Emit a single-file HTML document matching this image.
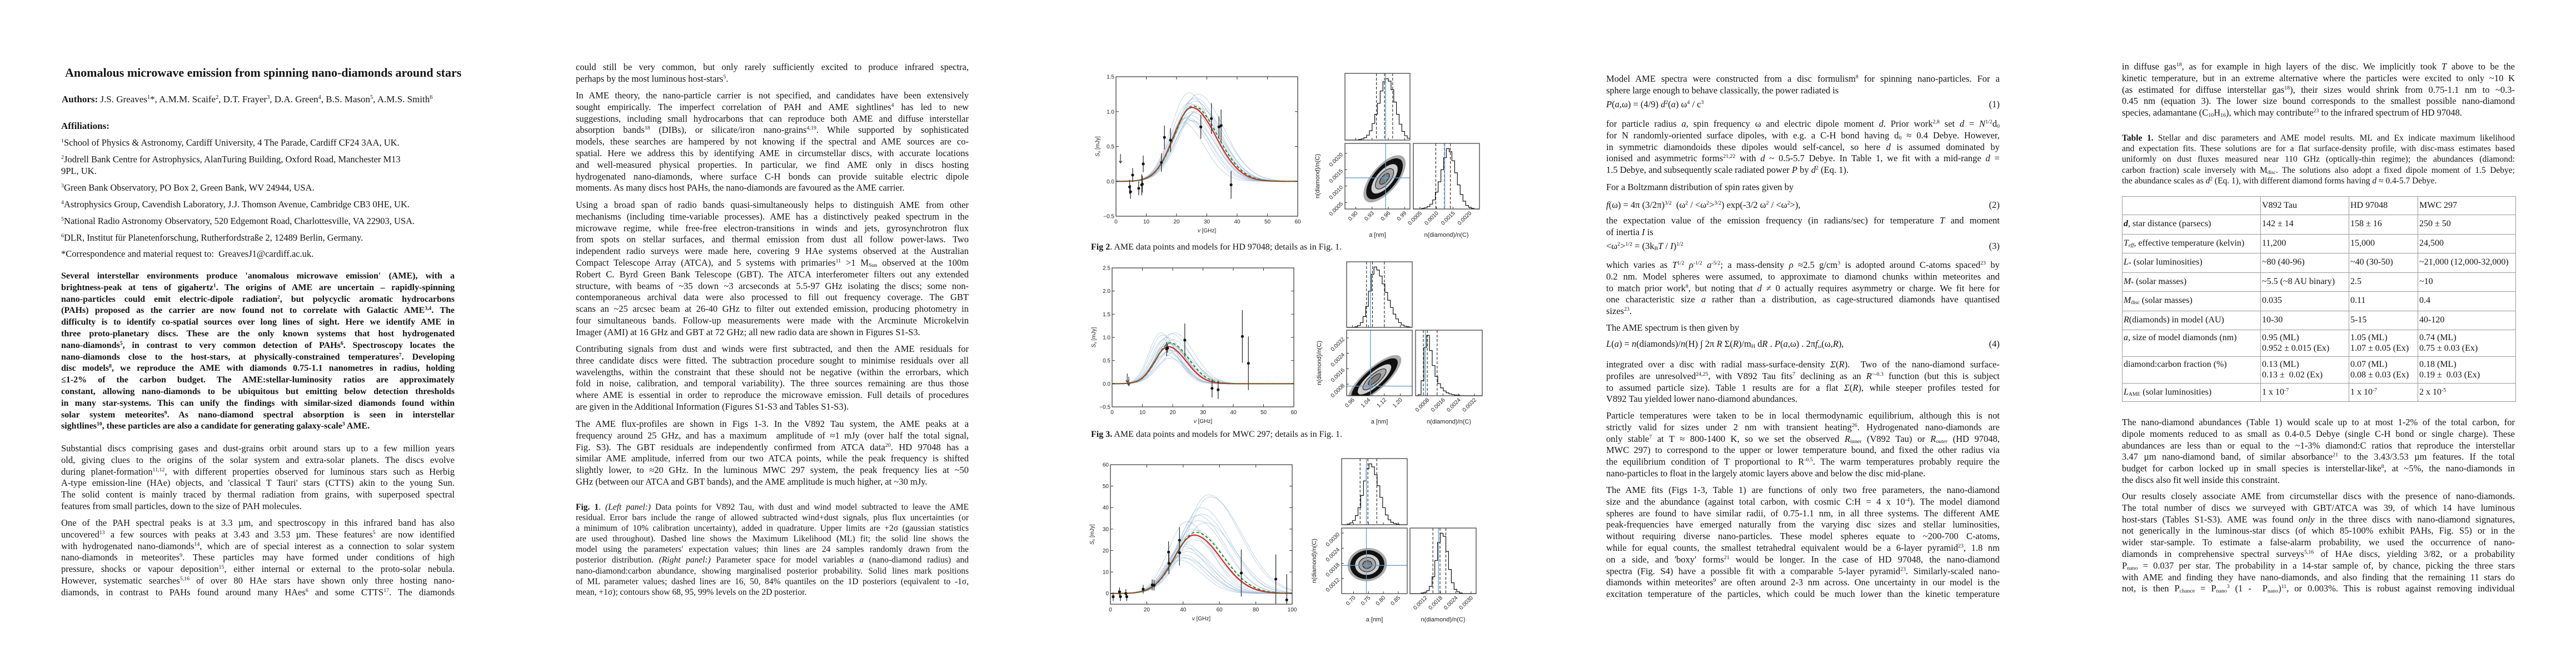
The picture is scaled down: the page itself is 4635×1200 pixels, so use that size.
<!DOCTYPE html>
<html><head><meta charset="utf-8"><title>Anomalous microwave emission from spinning nano-diamonds around stars</title>
<style>
body{margin:0;width:4635px;height:1200px;position:relative;background:#fff;overflow:hidden;font-family:"Liberation Serif",serif;color:#141414}
.p{position:absolute;font-size:16.5px;line-height:20.8px}
.p>div{height:20.8px;overflow:hidden;text-align:justify;text-align-last:justify}
.p>div.e{text-align-last:left}
.b{font-weight:bold;font-size:16px}
.cap{font-size:15.5px;line-height:19.1px}
.cap>div{height:19.1px}
.tc{font-size:15.5px;line-height:19.2px}
.tc>div{height:19.2px}
sup{font-size:0.6em;line-height:0;vertical-align:0.6em}
sub{font-size:0.6em;line-height:0;vertical-align:-0.2em}
.eq{position:absolute;font-size:16.5px;line-height:20.8px;height:20.8px}
.eq .n{position:absolute;right:0;top:0}
.abs{position:absolute;white-space:nowrap}
.tb{position:absolute;font-size:16px;line-height:19px}
.cell{position:absolute;box-sizing:border-box;border:1px solid #999;padding:4px 2px 0 2px;overflow:hidden;white-space:nowrap}
#figs{position:absolute;left:0;top:0}
</style></head>
<body>

<div class="abs" style="left:117px;top:118px;font-size:22px;font-weight:bold;">Anomalous microwave emission from spinning nano-diamonds around stars</div>
<div class="abs" style="left:111px;top:169px;font-size:17px;"><b>Authors:</b> J.S. Greaves<sup>1</sup>*, A.M.M. Scaife<sup>2</sup>, D.T. Frayer<sup>3</sup>, D.A. Green<sup>4</sup>, B.S. Mason<sup>5</sup>, A.M.S. Smith<sup>6</sup></div>
<div class="abs" style="left:110px;top:217px;font-size:17px;font-weight:bold;">Affiliations:</div>
<div class="abs" style="left:110px;top:247px;font-size:16.5px;"><sup>1</sup>School of Physics &amp; Astronomy, Cardiff University, 4 The Parade, Cardiff CF24 3AA, UK.</div>
<div class="abs" style="left:110px;top:276px;font-size:16.5px;line-height:21px;"><sup>2</sup>Jodrell Bank Centre for Astrophysics, AlanTuring Building, Oxford Road, Manchester M13<br>9PL, UK.</div>
<div class="abs" style="left:110px;top:328px;font-size:16.5px;"><sup>3</sup>Green Bank Observatory, PO Box 2, Green Bank, WV 24944, USA.</div>
<div class="abs" style="left:110px;top:358px;font-size:16.5px;"><sup>4</sup>Astrophysics Group, Cavendish Laboratory, J.J. Thomson Avenue, Cambridge CB3 0HE, UK.</div>
<div class="abs" style="left:110px;top:388px;font-size:16.5px;"><sup>5</sup>National Radio Astronomy Observatory, 520 Edgemont Road, Charlottesville, VA 22903, USA.</div>
<div class="abs" style="left:110px;top:418px;font-size:16.5px;"><sup>6</sup>DLR, Institut für Planetenforschung, Rutherfordstraße 2, 12489 Berlin, Germany.</div>
<div class="abs" style="left:110px;top:447px;font-size:16.5px;">*Correspondence and material request to: &nbsp;GreavesJ1@cardiff.ac.uk.</div>

<div class="p b" style="left:110px;top:487px;width:708px;">
<div>Several interstellar environments produce 'anomalous microwave emission' (AME), with a</div>
<div>brightness-peak at tens of gigahertz<sup>1</sup>. The origins of AME are uncertain – rapidly-spinning</div>
<div>nano-particles could emit electric-dipole radiation<sup>2</sup>, but polycyclic aromatic hydrocarbons</div>
<div>(PAHs) proposed as the carrier are now found not to correlate with Galactic AME<sup>3,4</sup>. The</div>
<div>difficulty is to identify co-spatial sources over long lines of sight. Here we identify AME in</div>
<div>three proto-planetary discs. These are the only known systems that host hydrogenated</div>
<div>nano-diamonds<sup>5</sup>, in contrast to very common detection of PAHs<sup>6</sup>. Spectroscopy locates the</div>
<div>nano-diamonds close to the host-stars, at physically-constrained temperatures<sup>7</sup>. Developing</div>
<div>disc models<sup>8</sup>, we reproduce the AME with diamonds 0.75-1.1 nanometres in radius, holding</div>
<div>≤1-2% of the carbon budget. The AME:stellar-luminosity ratios are approximately</div>
<div>constant, allowing nano-diamonds to be ubiquitous but emitting below detection thresholds</div>
<div>in many star-systems. This can unify the findings with similar-sized diamonds found within</div>
<div>solar system meteorites<sup>9</sup>. As nano-diamond spectral absorption is seen in interstellar</div>
<div class="e">sightlines<sup>10</sup>, these particles are also a candidate for generating galaxy-scale<sup>3</sup> AME.</div>
</div>

<div class="p" style="left:110px;top:797px;width:708px;">
<div>Substantial discs comprising gases and dust-grains orbit around stars up to a few million years</div>
<div>old, giving clues to the origins of the solar system and extra-solar planets. The discs evolve</div>
<div>during planet-formation<sup>11,12</sup>, with different properties observed for luminous stars such as Herbig</div>
<div>A-type emission-line (HAe) objects, and 'classical T Tauri' stars (CTTS) akin to the young Sun.</div>
<div>The solid content is mainly traced by thermal radiation from grains, with superposed spectral</div>
<div class="e">features from small particles, down to the size of PAH molecules.</div>
</div>

<div class="p" style="left:110px;top:931px;width:708px;">
<div>One of the PAH spectral peaks is at 3.3 µm, and spectroscopy in this infrared band has also</div>
<div>uncovered<sup>13</sup> a few sources with peaks at 3.43 and 3.53 µm. These features<sup>5</sup> are now identified</div>
<div>with hydrogenated nano-diamonds<sup>14</sup>, which are of special interest as a connection to solar system</div>
<div>nano-diamonds in meteorites<sup>9</sup>. These particles may have formed under conditions of high</div>
<div>pressure, shocks or vapour deposition<sup>15</sup>, either internal or external to the proto-solar nebula.</div>
<div>However, systematic searches<sup>5,16</sup> of over 80 HAe stars have shown only three hosting nano-</div>
<div>diamonds, in contrast to PAHs found around many HAes<sup>6</sup> and some CTTS<sup>17</sup>. The diamonds</div>
</div>

<div class="p" style="left:1036px;top:111px;width:707px;">
<div>could still be very common, but only rarely sufficiently excited to produce infrared spectra,</div>
<div class="e">perhaps by the most luminous host-stars<sup>5</sup>.</div>
</div>
<div class="p" style="left:1036px;top:162px;width:707px;">
<div>In AME theory, the nano-particle carrier is not specified, and candidates have been extensively</div>
<div>sought empirically. The imperfect correlation of PAH and AME sightlines<sup>4</sup> has led to new</div>
<div>suggestions, including small hydrocarbons that can reproduce both AME and diffuse interstellar</div>
<div>absorption bands<sup>18</sup> (DIBs), or silicate/iron nano-grains<sup>4,19</sup>. While supported by sophisticated</div>
<div>models, these searches are hampered by not knowing if the spectral and AME sources are co-</div>
<div>spatial. Here we address this by identifying AME in circumstellar discs, with accurate locations</div>
<div>and well-measured physical properties. In particular, we find AME only in discs hosting</div>
<div>hydrogenated nano-diamonds, where surface C-H bonds can provide suitable electric dipole</div>
<div class="e">moments. As many discs host PAHs, the nano-diamonds are favoured as the AME carrier.</div>
</div>
<div class="p" style="left:1036px;top:359px;width:707px;">
<div>Using a broad span of radio bands quasi-simultaneously helps to distinguish AME from other</div>
<div>mechanisms (including time-variable processes). AME has a distinctively peaked spectrum in the</div>
<div>microwave regime, while free-free electron-transitions in winds and jets, gyrosynchrotron flux</div>
<div>from spots on stellar surfaces, and thermal emission from dust all follow power-laws. Two</div>
<div>independent radio surveys were made here, covering 9 HAe systems observed at the Australian</div>
<div>Compact Telescope Array (ATCA), and 5 systems with primaries<sup>11</sup> &gt;1 M<sub>Sun</sub> observed at the 100m</div>
<div>Robert C. Byrd Green Bank Telescope (GBT). The ATCA interferometer filters out any extended</div>
<div>structure, with beams of ~35 down ~3 arcseconds at 5.5-97 GHz isolating the discs; some non-</div>
<div>contemporaneous archival data were also processed to fill out frequency coverage. The GBT</div>
<div>scans an ~25 arcsec beam at 26-40 GHz to filter out extended emission, producing photometry in</div>
<div>four simultaneous bands. Follow-up measurements were made with the Arcminute Microkelvin</div>
<div class="e">Imager (AMI) at 16 GHz and GBT at 72 GHz; all new radio data are shown in Figures S1-S3.</div>
</div>
<div class="p" style="left:1036px;top:618px;width:707px;">
<div>Contributing signals from dust and winds were first subtracted, and then the AME residuals for</div>
<div>three candidate discs were fitted. The subtraction procedure sought to minimise residuals over all</div>
<div>wavelengths, within the constraint that these should not be negative (within the errorbars, which</div>
<div>fold in noise, calibration, and temporal variability). The three sources remaining are thus those</div>
<div>where AME is essential in order to reproduce the microwave emission. Full details of procedures</div>
<div class="e">are given in the Additional Information (Figures S1-S3 and Tables S1-S3).</div>
</div>
<div class="p" style="left:1036px;top:753px;width:707px;">
<div>The AME flux-profiles are shown in Figs 1-3. In the V892 Tau system, the AME peaks at a</div>
<div>frequency around 25 GHz, and has a maximum &nbsp;amplitude of ≈1 mJy (over half the total signal,</div>
<div>Fig. S3). The GBT residuals are independently confirmed from ATCA data<sup>20</sup>. HD 97048 has a</div>
<div>similar AME amplitude, inferred from our two ATCA points, while the peak frequency is shifted</div>
<div>slightly lower, to ≈20 GHz. In the luminous MWC 297 system, the peak frequency lies at ~50</div>
<div class="e">GHz (between our ATCA and GBT bands), and the AME amplitude is much higher, at ~30 mJy.</div>
</div>
<div class="p cap" style="left:1036px;top:903px;width:707px;">
<div><b>Fig. 1</b>. <i>(Left panel:)</i> Data points for V892 Tau, with dust and wind model subtracted to leave the AME</div>
<div>residual. Error bars include the range of allowed subtracted wind+dust signals, plus flux uncertainties (or</div>
<div>a minimum of 10% calibration uncertainty), added in quadrature. Upper limits are +2σ (gaussian statistics</div>
<div>are used throughout). Dashed line shows the Maximum Likelihood (ML) fit; the solid line shows the</div>
<div>model using the parameters' expectation values; thin lines are 24 samples randomly drawn from the</div>
<div>posterior distribution. <i>(Right panel:)</i> Parameter space for model variables <i>a</i> (nano-diamond radius) and</div>
<div>nano-diamond:carbon abundance, showing marginalised posterior probability. Solid lines mark positions</div>
<div>of ML parameter values; dashed lines are 16, 50, 84% quantiles on the 1D posteriors (equivalent to -1σ,</div>
<div class="e">mean, +1σ); contours show 68, 95, 99% levels on the 2D posterior.</div>
</div>

<div class="abs" style="left:1963px;top:436px;font-size:16px;"><b>Fig 2</b>. AME data points and models for HD 97048; details as in Fig. 1.</div>
<div class="abs" style="left:1963px;top:773px;font-size:16px;"><b>Fig 3.</b> AME data points and models for MWC 297; details as in Fig. 1.</div>

<div class="p" style="left:2890px;top:132px;width:708px;">
<div>Model AME spectra were constructed from a disc formulism<sup>8</sup> for spinning nano-particles. For a</div>
<div class="e">sphere large enough to behave classically, the power radiated is</div>
</div>
<div class="eq" style="left:2890px;top:178px;width:708px;"><i>P</i>(<i>a</i>,ω) = (4/9) <i>d</i><sup>2</sup>(<i>a</i>) ω<sup>4</sup> / c<sup>3</sup><span class="n">(1)</span></div>
<div class="p" style="left:2890px;top:213px;width:708px;">
<div>for particle radius <i>a</i>, spin frequency ω and electric dipole moment <i>d</i>. Prior work<sup>2,8</sup> set <i>d</i> = <i>N</i><sup>1/2</sup>d<sub>0</sub></div>
<div>for N randomly-oriented surface dipoles, with e.g. a C-H bond having d<sub>0</sub> ≈ 0.4 Debye. However,</div>
<div>in symmetric diamondoids these dipoles would self-cancel, so here <i>d</i> is assumed dominated by</div>
<div>ionised and asymmetric forms<sup>21,22</sup> with <i>d</i> ~ 0.5-5.7 Debye. In Table 1, we fit with a mid-range <i>d</i> =</div>
<div class="e">1.5 Debye, and subsequently scale radiated power <i>P</i> by <i>d</i><sup>2</sup> (Eq. 1).</div>
</div>
<div class="p" style="left:2890px;top:327px;width:708px;"><div class="e">For a Boltzmann distribution of spin rates given by</div></div>
<div class="eq" style="left:2890px;top:359px;width:708px;"><i>f</i>(ω) = 4π (3/2π)<sup>3/2</sup> &nbsp;(ω<sup>2</sup> / &lt;ω<sup>2</sup>&gt;<sup>3/2</sup>) exp(-3/2 ω<sup>2</sup> / &lt;ω<sup>2</sup>&gt;),<span class="n">(2)</span></div>
<div class="p" style="left:2890px;top:387px;width:708px;">
<div>the expectation value of the emission frequency (in radians/sec) for temperature <i>T</i> and moment</div>
<div class="e">of inertia <i>I</i> is</div>
</div>
<div class="eq" style="left:2890px;top:433px;width:708px;">&lt;ω<sup>2</sup>&gt;<sup>1/2</sup> = (3k<sub>B</sub><i>T</i> / <i>I</i>)<sup>1/2</sup><span class="n">(3)</span></div>
<div class="p" style="left:2890px;top:467px;width:708px;">
<div>which varies as <i>T</i><sup>1/2</sup> <i>ρ</i><sup>-1/2</sup> <i>a</i><sup>-5/2</sup>; a mass-density <i>ρ</i> ≈2.5 g/cm<sup>3</sup> is adopted around C-atoms spaced<sup>23</sup> by</div>
<div>0.2 nm. Model spheres were assumed, to approximate to diamond chunks within meteorites and</div>
<div>to match prior work<sup>8</sup>, but noting that <i>d</i> ≠ 0 actually requires asymmetry or charge. We fit here for</div>
<div>one characteristic size <i>a</i> rather than a distribution, as cage-structured diamonds have quantised</div>
<div class="e">sizes<sup>23</sup>.</div>
</div>
<div class="p" style="left:2890px;top:580px;width:708px;"><div class="e">The AME spectrum is then given by</div></div>
<div class="eq" style="left:2890px;top:609px;width:708px;"><i>L</i>(<i>a</i>) = <i>n</i>(diamonds)/<i>n</i>(H) ∫ 2π <i>R</i> Σ(<i>R</i>)/m<sub>H</sub> d<i>R</i> . <i>P</i>(<i>a</i>,ω) . 2π<i>f</i><sub>ω</sub>(ω,<i>R</i>),<span class="n">(4)</span></div>
<div class="p" style="left:2890px;top:646px;width:708px;">
<div>integrated over a disc with radial mass-surface-density <i>Σ</i>(<i>R</i>). &nbsp;Two of the nano-diamond surface-</div>
<div>profiles are unresolved<sup>24,25</sup>, with V892 Tau fits<sup>7</sup> declining as an <i>R</i><sup>~-0.3</sup> function (but this is subject</div>
<div>to assumed particle size). Table 1 results are for a flat <i>Σ</i>(<i>R</i>), while steeper profiles tested for</div>
<div class="e">V892 Tau yielded lower nano-diamond abundances.</div>
</div>
<div class="p" style="left:2890px;top:738px;width:708px;">
<div>Particle temperatures were taken to be in local thermodynamic equilibrium, although this is not</div>
<div>strictly valid for sizes under 2 nm with transient heating<sup>26</sup>. Hydrogenated nano-diamonds are</div>
<div>only stable<sup>7</sup> at T ≈ 800-1400 K, so we set the observed <i>R</i><sub>inner</sub> (V892 Tau) or <i>R<sub>outer</sub></i> (HD 97048,</div>
<div>MWC 297) to correspond to the upper or lower temperature bound, and fixed the other radius via</div>
<div>the equilibrium condition of T proportional to R<sup>-0.5</sup>. The warm temperatures probably require the</div>
<div class="e">nano-particles to float in the largely atomic layers above and below the disc mid-plane.</div>
</div>
<div class="p" style="left:2890px;top:872px;width:708px;">
<div>The AME fits (Figs 1-3, Table 1) are functions of only two free parameters, the nano-diamond</div>
<div>size and the abundance (against total carbon, with cosmic C:H = 4 x 10<sup>-4</sup>). The model diamond</div>
<div>spheres are found to have similar radii, of 0.75-1.1 nm, in all three systems. The different AME</div>
<div>peak-frequencies have emerged naturally from the varying disc sizes and stellar luminosities,</div>
<div>without requiring diverse nano-particles. These model spheres equate to ~200-700 C-atoms,</div>
<div>while for equal counts, the smallest tetrahedral equivalent would be a 6-layer pyramid<sup>23</sup>, 1.8 nm</div>
<div>on a side, and 'boxy' forms<sup>21</sup> would be longer. In the case of HD 97048, the nano-diamond</div>
<div>spectra (Fig. S4) have a possible fit with a comparable 5-layer pyramid<sup>23</sup>. Similarly-scaled nano-</div>
<div>diamonds within meteorites<sup>9</sup> are often around 2-3 nm across. One uncertainty in our model is the</div>
<div>excitation temperature of the particles, which could be much lower than the kinetic temperature</div>
</div>

<div class="p" style="left:3818px;top:110px;width:707px;">
<div>in diffuse gas<sup>18</sup>, as for example in high layers of the disc. We implicitly took <i>T</i> above to be the</div>
<div>kinetic temperature, but in an extreme alternative where the particles were excited to only ~10 K</div>
<div>(as estimated for diffuse interstellar gas<sup>18</sup>), their sizes would shrink from 0.75-1.1 nm to ~0.3-</div>
<div>0.45 nm (equation 3). The lower size bound corresponds to the smallest possible nano-diamond</div>
<div class="e">species, adamantane (C<sub>10</sub>H<sub>16</sub>), which may contribute<sup>23</sup> to the infrared spectrum of HD 97048.</div>
</div>
<div class="p tc" style="left:3818px;top:239px;width:707px;">
<div><b>Table 1.</b> Stellar and disc parameters and AME model results. ML and Ex indicate maximum likelihood</div>
<div>and expectation fits. These solutions are for a flat surface-density profile, with disc-mass estimates based</div>
<div>uniformly on dust fluxes measured near 110 GHz (optically-thin regime); the abundances (diamond:</div>
<div>carbon fraction) scale inversely with M<sub>disc</sub>. The solutions also adopt a fixed dipole moment of 1.5 Debye;</div>
<div class="e">the abundance scales as <i>d</i><sup>2</sup> (Eq. 1), with different diamond forms having <i>d</i> ≈ 0.4-5.7 Debye.</div>
</div>

<div class="tb" id="table1"></div>

<div class="p" style="left:3818px;top:750px;width:707px;">
<div>The nano-diamond abundances (Table 1) would scale up to at most 1-2% of the total carbon, for</div>
<div>dipole moments reduced to as small as 0.4-0.5 Debye (single C-H bond or single charge). These</div>
<div>abundances are less than or equal to the ~1-3% diamond:C ratios that reproduce the interstellar</div>
<div>3.47 µm nano-diamond band, of similar absorbance<sup>21</sup> to the 3.43/3.53 µm features. If the total</div>
<div>budget for carbon locked up in small species is interstellar-like<sup>8</sup>, at ~5%, the nano-diamonds in</div>
<div class="e">the discs also fit well inside this constraint.</div>
</div>
<div class="p" style="left:3818px;top:883px;width:707px;">
<div>Our results closely associate AME from circumstellar discs with the presence of nano-diamonds.</div>
<div>The total number of discs we surveyed with GBT/ATCA was 39, of which 14 have luminous</div>
<div>host-stars (Tables S1-S3). AME was found <i>only</i> in the three discs with nano-diamond signatures,</div>
<div>not generically in the luminous-star discs (of which 85-100% exhibit PAHs, Fig. S5) or in the</div>
<div>wider star-sample. To estimate a false-alarm probability, we used the occurrence of nano-</div>
<div>diamonds in comprehensive spectral surveys<sup>5,16</sup> of HAe discs, yielding 3/82, or a probability</div>
<div>P<sub>nano</sub> = 0.037 per star. The probability in a 14-star sample of, by chance, picking the three stars</div>
<div>with AME and finding they have nano-diamonds, and also finding that the remaining 11 stars do</div>
<div>not, is then P<sub>chance</sub> = P<sub>nano</sub><sup>3</sup> (1 - &nbsp;P<sub>nano</sub>)<sup>11</sup>, or 0.003%. This is robust against removing individual</div>
</div>

<svg id="figs" width="4635" height="1200" xmlns="http://www.w3.org/2000/svg"></svg>

<script>
const tableHeader = ["", "V892 Tau", "HD 97048", "MWC 297"];
const tableRowLabels = ["<i><b>d</b></i>, star distance (parsecs)", "<i>T<sub>eff</sub></i>, effective temperature (kelvin)", "<i>L</i><sub>*</sub> (solar luminosities)", "<i>M</i><sub>*</sub> (solar masses)", "<i>M</i><sub>disc</sub> (solar masses)", "<i>R</i>(diamonds) in model (AU)", "<i>a</i>, size of model diamonds (nm)", "diamond:carbon fraction (%)", "<i>L</i><sub>AME</sub> (solar luminosities)"];
const tableV892 = ["142 ± 14", "11,200", "~80 (40-96)", "~5.5 (~8 AU binary)", "0.035", "10-30", "0.95 (ML)<br>0.952 ± 0.015 (Ex)", "0.13 (ML)<br>0.13 ± &nbsp;0.02 (Ex)", "1 x 10<sup>-7</sup>"];
const tableHD = ["158 ± 16", "15,000", "~40 (30-50)", "2.5", "0.11", "5-15", "1.05 (ML)<br>1.07 ± 0.05 (Ex)", "0.07 (ML)<br>0.08 ± 0.03 (Ex)", "1 x 10<sup>-7</sup>"];
const tableMWC = ["250 ± 50", "24,500", "~21,000 (12,000-32,000)", "~10", "0.4", "40-120", "0.74 (ML)<br>0.75 ± 0.03 (Ex)", "0.18 (ML)<br>0.19 ± &nbsp;0.03 (Ex)", "2 x 10<sup>-5</sup>"];

(function(){
  const colX = [3818, 4067, 4226, 4350, 4526];
  const rowY = [353, 386, 421, 455, 490, 524, 559, 593, 641, 689, 722];
  const tb = document.getElementById('table1');
  const rows = [tableHeader];
  for (let i = 0; i < tableRowLabels.length; i++) rows.push([tableRowLabels[i], tableV892[i], tableHD[i], tableMWC[i]]);
  rows.forEach((r, ri) => {
    r.forEach((txt, ci) => {
      const c = document.createElement('div');
      c.className = 'cell';
      c.style.left = colX[ci] + 'px';
      c.style.top = rowY[ri] + 'px';
      c.style.width = (colX[ci+1] - colX[ci] + 1) + 'px';
      c.style.height = (rowY[ri+1] - rowY[ri] + 1) + 'px';
      c.style.paddingTop = (ri >= 7 && ri <= 8 ? 4 : 6) + 'px';
      c.innerHTML = txt;
      
      
      tb.appendChild(c);
    });
  });
})();

const hdFreq = [4.5, 4.8, 5.5, 7.5, 8.5, 8.7, 9, 15, 16, 18, 28, 31.5, 34, 34.7, 38];
const hdFlux = [-0.08, -0.15, 0.09, -0.1, -0.05, -0.04, 0.25, 0.27, 0.63, 0.59, 0.78, 0.9, 0.78, 0.8, -0.05];
const hdErr = [0.1, 0.1, 0.1, 0.1, 0.15, 0.12, 0.12, 0.13, 0.17, 0.17, 0.17, 0.22, 0.15, 0.23, 0.2];
const hdLimFreq = [1.5];
const hdLimVal = [0.39];
const hdSamplePeak = [22, 23, 24, 24.5, 25, 25, 25.5, 26, 26, 27, 24, 23.5, 26.5, 25, 24, 27.5, 26, 25.5];
const hdSampleAmp = [0.85, 0.9, 0.88, 0.95, 1.0, 1.05, 1.1, 1.15, 1.2, 1.25, 1.27, 0.92, 1.0, 0.87, 1.12, 1.05, 0.98, 1.18];
const hdFitPeak = [25.4, 25.0];
const hdFitAmp = [1.08, 1.06];
const hdXTicks = [0, 10, 20, 30, 40, 50, 60];
const hdYTicks = [-0.5, 0.0, 0.5, 1.0, 1.5];
const hdYLabels = ["−0.5", "0.0", "0.5", "1.0", "1.5"];
const hdACounts = [0,0,0,0,0,1,2,4,8,15,27,42,60,80,95,100,96,82,62,42,26,14,7,3];
const hdNCounts = [0,0,0,1,2,4,8,15,28,45,65,85,100,95,80,60,40,24,13,6,3,1,0,0];
const hdARange = [0.88, 1.0];
const hdNRange = [0.0003, 0.0023];
const hdATicks = [0.90, 0.93, 0.96, 0.99];
const hdNTicks = [0.0005, 0.0010, 0.0015, 0.0020];
const hdAQuant = [0.938, 0.953, 0.968];
const hdNQuant = [0.00098, 0.00124, 0.00142];
const hdML = [0.955, 0.00125];
const hdSpread = [0.953, 0.00122, 0.013, 0.00024, 0.65];

const mwFreq = [18, 18.3, 24, 33, 35, 43, 45];
const mwFlux = [0.75, 0.77, 0.94, -0.1, -0.13, 1.02, 0.44];
const mwErr = [0.15, 0.1, 0.36, 0.2, 0.2, 0.57, 0.58];
const mwLimFreq = [5, 5.5];
const mwLimVal = [0.22, 0.15];
const mwSamplePeak = [16, 16.5, 17, 17, 17.5, 18, 18, 18.5, 19, 19, 19.5, 20, 20, 20.5, 21, 17.5, 18.5, 19.5];
const mwSampleAmp = [1.1, 1.05, 0.95, 0.8, 0.75, 0.68, 1.0, 0.9, 0.85, 0.55, 1.08, 0.78, 0.95, 1.1, 0.7, 0.62, 0.88, 0.72];
const mwFitPeak = [19.2, 18.5];
const mwFitAmp = [0.88, 0.8];
const mwXTicks = [0, 10, 20, 30, 40, 50, 60];
const mwYTicks = [-0.5, 0.0, 0.5, 1.0, 1.5, 2.0, 2.5];
const mwYLabels = ["−0.5", "0.0", "0.5", "1.0", "1.5", "2.0", "2.5"];
const mwACounts = [0,0,0,1,3,8,18,35,60,88,100,95,85,72,58,45,33,22,14,8,4,2,1,0];
const mwNCounts = [0,2,25,80,100,75,50,32,20,13,8,5,3,2,1,1,0,0,0,0,0,0,0,0];
const mwARange = [0.93, 1.26];
const mwNRange = [0.0002, 0.0036];
const mwATicks = [0.96, 1.04, 1.12, 1.20];
const mwNTicks = [0.0008, 0.0016, 0.0024, 0.0032];
const mwAQuant = [1.03, 1.06, 1.12];
const mwNQuant = [0.0006, 0.0008, 0.0013];
const mwML = [1.05, 0.0007];
const mwSpread = [1.07, 0.00105, 0.045, 0.00042, 0.8];

const vtFreq = [1.5, 5, 5.5, 8.5, 9, 18, 23, 24, 32, 32.2, 38, 38, 72, 91, 97];
const vtFlux = [-1.5, 0.8, -1.5, 0, -1.5, 2, 4, 3.8, 19.3, 14, 24.8, 19, 9.5, 6.7, -3];
const vtErr = [2, 2, 2, 2, 2, 2, 2.5, 2.5, 5, 5, 6, 6, 11, 11.5, 12];
const vtLimFreq = [];
const vtLimVal = [];
const vtSamplePeak = [38, 39, 40, 40, 41, 42, 42, 44, 45, 46, 47, 48, 48, 50, 50, 52, 54, 55, 43, 41];
const vtSampleAmp = [15.5, 17, 18, 22, 23, 19.5, 33.5, 27, 30, 25, 29.5, 34, 36.5, 37, 40, 33, 46, 45, 21, 16.5];
const vtFitPeak = [47, 46];
const vtFitAmp = [28.5, 27.2];
const vtXTicks = [0, 20, 40, 60, 80, 100];
const vtYTicks = [0, 10, 20, 30, 40, 50, 60];
const vtYLabels = ["0", "10", "20", "30", "40", "50", "60"];
const vtACounts = [0,0,1,3,7,15,28,48,72,92,100,95,82,64,45,28,16,8,4,2,1,0,0,0];
const vtNCounts = [0,0,0,0,1,2,5,12,28,55,85,100,95,70,40,18,7,3,1,0,0,0,0,0];
const vtARange = [0.66, 0.88];
const vtNRange = [0.0006, 0.0032];
const vtATicks = [0.70, 0.75, 0.80, 0.85];
const vtNTicks = [0.0012, 0.0018, 0.0024, 0.0030];
const vtAQuant = [0.722, 0.748, 0.778];
const vtNQuant = [0.0015, 0.00178, 0.00201];
const vtML = [0.743, 0.00172];
const vtSpread = [0.746, 0.00175, 0.022, 0.00022, 0.05];

const NS = 'http://www.w3.org/2000/svg';
const svg = document.getElementById('figs');
function mk(tag, attrs, parent) {
  const e = document.createElementNS(NS, tag);
  for (const k in attrs) e.setAttribute(k, attrs[k]);
  (parent || svg).appendChild(e);
  return e;
}
function lin(d0, d1, r0, r1) { return v => r0 + (v - d0) / (d1 - d0) * (r1 - r0); }
function model(nu, peak, amp) {
  const s = nu < peak ? 0.24 * peak : 0.32 * peak;
  return amp * Math.exp(-((nu - peak) * (nu - peak)) / (2 * s * s));
}
const TICKFONT = '"Liberation Sans", "DejaVu Sans", sans-serif';

function drawSpectrum(id, box, xDom, yDom, xTicks, yTicks, yLabels, freq, flux, err, limF, limV, sPeak, sAmp, fPeak, fAmp) {
  const g = mk('g', {});
  
  
  const X = lin(xDom[0], xDom[1], box.x, box.x + box.w);
  const Y = lin(yDom[0], yDom[1], box.y + box.h, box.y);
  const clip = mk('clipPath', { id: id + '-clip' }, g);
  mk('rect', { x: box.x, y: box.y, width: box.w, height: box.h }, clip);
  const cg = mk('g', { 'clip-path': 'url(#' + id + '-clip)' }, g);
  function curve(peak, amp) {
    let d = '';
    for (let nu = xDom[0]; nu <= xDom[1] + 1e-9; nu += (xDom[1] - xDom[0]) / 240) {
      d += (d ? 'L' : 'M') + X(nu).toFixed(1) + ',' + Y(model(nu, peak, amp)).toFixed(1);
    }
    return d;
  }
  for (let i = 0; i < sPeak.length; i++) {
    const p = mk('path', { d: curve(sPeak[i], sAmp[i]), fill: 'none', stroke: '#8fb0cf', 'stroke-width': 1, opacity: 0.55 }, cg);
    
    
  }
  const ex = mk('path', { d: curve(fPeak[1], fAmp[1]), fill: 'none', stroke: '#d62728', 'stroke-width': 2.2 }, cg);
  
  
  const ml = mk('path', { d: curve(fPeak[0], fAmp[0]), fill: 'none', stroke: '#2a8a2a', 'stroke-width': 2, 'stroke-dasharray': '5,4' }, cg);
  
  
  for (let i = 0; i < freq.length; i++) {
    const eb = mk('line', { x1: X(freq[i]), x2: X(freq[i]), y1: Y(flux[i] - err[i]), y2: Y(flux[i] + err[i]), stroke: '#333', 'stroke-width': 1.3 }, cg);
    
    
    const pt = mk('circle', { cx: X(freq[i]), cy: Y(flux[i]), r: 2.6, fill: '#111' }, cg);
    
    
  }
  for (let i = 0; i < limF.length; i++) {
    const x = X(limF[i]), y = Y(limV[i]);
    const ln = mk('path', { d: 'M' + x + ',' + y + 'L' + x + ',' + (y + 16) + 'M' + (x - 2.5) + ',' + (y + 12) + 'L' + x + ',' + (y + 16) + 'L' + (x + 2.5) + ',' + (y + 12), fill: 'none', stroke: '#333', 'stroke-width': 1.2 }, cg);
    
    
  }
  const fr = mk('rect', { x: box.x, y: box.y, width: box.w, height: box.h, fill: 'none', stroke: '#333', 'stroke-width': 1.2 }, g);
  
  
  xTicks.forEach(t => {
    const x = X(t);
    mk('line', { x1: x, x2: x, y1: box.y + box.h, y2: box.y + box.h - 5, stroke: '#333' }, g);
    mk('line', { x1: x, x2: x, y1: box.y, y2: box.y + 5, stroke: '#333' }, g);
    const tl = mk('text', { x: x, y: box.y + box.h + 13, 'font-size': 10, 'text-anchor': 'middle', fill: '#222', 'font-family': TICKFONT }, g);
    tl.textContent = String(t);
    
    
  });
  yTicks.forEach((t, i) => {
    const y = Y(t);
    mk('line', { x1: box.x, x2: box.x + 5, y1: y, y2: y, stroke: '#333' }, g);
    mk('line', { x1: box.x + box.w, x2: box.x + box.w - 5, y1: y, y2: y, stroke: '#333' }, g);
    const tl = mk('text', { x: box.x - 3, y: y + 3.5, 'font-size': 10, 'text-anchor': 'end', fill: '#222', 'font-family': TICKFONT }, g);
    tl.textContent = yLabels[i];
    
    
  });
  const xl = mk('text', { x: box.x + box.w / 2, y: box.y + box.h + 29, 'font-size': 10, 'text-anchor': 'middle', fill: '#222', 'font-family': TICKFONT }, g);
  xl.innerHTML = '<tspan font-style="italic">ν</tspan> [GHz]';
  
  
  const yl = mk('text', { x: 0, y: 0, 'font-size': 10, 'text-anchor': 'middle', fill: '#222', 'font-family': TICKFONT, transform: 'translate(' + (box.x - 30) + ',' + (box.y + box.h / 2) + ') rotate(-90)' }, g);
  yl.innerHTML = '<tspan font-style="italic">S</tspan><tspan font-size="7" dy="2">ν</tspan><tspan dy="-2"> [mJy]</tspan>';
  
  
}

function drawCorner(id, top, mid, right, aCounts, nCounts, aRange, nRange, aTicks, nTicks, aQuant, nQuant, ml, spread) {
  const g = mk('g', {});
  
  
  const XA = lin(aRange[0], aRange[1], mid.x, mid.x + mid.w);
  const YN = lin(nRange[0], nRange[1], mid.y + mid.h, mid.y);
  const XN = lin(nRange[0], nRange[1], right.x, right.x + right.w);
  const blue = '#6a9ac4';
  function hist(box, counts, X, range, name) {
    const mx = Math.max.apply(null, counts);
    const H = lin(0, mx, box.y + box.h, box.y + box.h * 0.08);
    const bw = (range[1] - range[0]) / counts.length;
    let d = 'M' + box.x + ',' + (box.y + box.h);
    counts.forEach((c, i) => {
      d += 'L' + X(range[0] + i * bw).toFixed(1) + ',' + H(c).toFixed(1) + 'L' + X(range[0] + (i + 1) * bw).toFixed(1) + ',' + H(c).toFixed(1);
    });
    const p = mk('path', { d: d, fill: 'none', stroke: '#111', 'stroke-width': 1.2 }, g);
    
    
  }
  const XAt = lin(aRange[0], aRange[1], top.x, top.x + top.w);
  hist(top, aCounts, XAt, aRange, 'size-histogram');
  aQuant.forEach(q => {
    const l = mk('line', { x1: XAt(q), x2: XAt(q), y1: top.y, y2: top.y + top.h, stroke: '#222', 'stroke-dasharray': '5,3', 'stroke-width': 1.1 }, g);
    
    
  });
  mk('line', { x1: XAt(ml[0]), x2: XAt(ml[0]), y1: top.y, y2: top.y + top.h, stroke: blue, 'stroke-width': 1.3 }, g);
  mk('rect', { x: top.x, y: top.y, width: top.w, height: top.h, fill: 'none', stroke: '#333', 'stroke-width': 1.2 }, g);
  hist(right, nCounts, XN, nRange, 'abundance-histogram');
  nQuant.forEach(q => {
    const l = mk('line', { x1: XN(q), x2: XN(q), y1: right.y, y2: right.y + right.h, stroke: '#222', 'stroke-dasharray': '5,3', 'stroke-width': 1.1 }, g);
    
    
  });
  mk('line', { x1: XN(ml[1]), x2: XN(ml[1]), y1: right.y, y2: right.y + right.h, stroke: blue, 'stroke-width': 1.3 }, g);
  mk('rect', { x: right.x, y: right.y, width: right.w, height: right.h, fill: 'none', stroke: '#333', 'stroke-width': 1.2 }, g);
  const clip = mk('clipPath', { id: id + '-c2' }, g);
  mk('rect', { x: mid.x, y: mid.y, width: mid.w, height: mid.h }, clip);
  const cg = mk('g', { 'clip-path': 'url(#' + id + '-c2)' }, g);
  const kx = mid.w / (aRange[1] - aRange[0]), ky = mid.h / (nRange[1] - nRange[0]);
  const sx = spread[2] * kx, sy = spread[3] * ky, cov = -spread[4] * sx * sy;
  const a2 = sx * sx, b2 = sy * sy;
  const ang = 0.5 * Math.atan2(2 * cov, a2 - b2) * 180 / Math.PI;
  const dd = Math.sqrt(((a2 - b2) / 2) * ((a2 - b2) / 2) + cov * cov);
  const l1 = Math.sqrt((a2 + b2) / 2 + dd), l2 = Math.sqrt(Math.max((a2 + b2) / 2 - dd, 1));
  const cx = XA(spread[0]), cy = YN(spread[1]);
  const layers = [[3.0, '#444', 'none', 0.45], [2.6, '#111', 'none', 1], [1.9, '#cfcfcf', '#111', 1], [1.3, '#a8a8a8', '#111', 1], [0.7, '#808080', '#111', 1]];
  layers.forEach(L => {
    const e = mk('ellipse', { cx: cx, cy: cy, rx: l1 * L[0], ry: l2 * L[0], fill: L[1], stroke: L[2], 'stroke-width': 1, opacity: L[3], transform: 'rotate(' + ang + ' ' + cx + ' ' + cy + ')' }, cg);
    
    
  });
  mk('line', { x1: XA(ml[0]), x2: XA(ml[0]), y1: mid.y, y2: mid.y + mid.h, stroke: blue, 'stroke-width': 1.3 }, cg);
  mk('line', { x1: mid.x, x2: mid.x + mid.w, y1: YN(ml[1]), y2: YN(ml[1]), stroke: blue, 'stroke-width': 1.3 }, cg);
  const mp = mk('rect', { x: XA(ml[0]) - 2.5, y: YN(ml[1]) - 2.5, width: 5, height: 5, fill: blue }, cg);
  
  
  mk('rect', { x: mid.x, y: mid.y, width: mid.w, height: mid.h, fill: 'none', stroke: '#333', 'stroke-width': 1.2 }, g);
  aTicks.forEach(t => {
    const x = XA(t);
    mk('line', { x1: x, x2: x, y1: mid.y + mid.h, y2: mid.y + mid.h - 4, stroke: '#333' }, g);
    mk('line', { x1: XAt(t), x2: XAt(t), y1: top.y + top.h, y2: top.y + top.h - 4, stroke: '#333' }, g);
    const tl = mk('text', { x: 0, y: 0, 'font-size': 10, 'text-anchor': 'end', fill: '#222', 'font-family': TICKFONT, transform: 'translate(' + (x + 4) + ',' + (mid.y + mid.h + 8) + ') rotate(-45)' }, g);
    tl.textContent = t.toFixed(2);
    
    
  });
  nTicks.forEach(t => {
    const x = XN(t), y = YN(t);
    mk('line', { x1: x, x2: x, y1: right.y + right.h, y2: right.y + right.h - 4, stroke: '#333' }, g);
    mk('line', { x1: mid.x, x2: mid.x + 4, y1: y, y2: y, stroke: '#333' }, g);
    const tl = mk('text', { x: 0, y: 0, 'font-size': 10, 'text-anchor': 'end', fill: '#222', 'font-family': TICKFONT, transform: 'translate(' + (x + 4) + ',' + (right.y + right.h + 8) + ') rotate(-45)' }, g);
    tl.textContent = t.toFixed(4);
    
    
    const tl2 = mk('text', { x: 0, y: 0, 'font-size': 10, 'text-anchor': 'end', fill: '#222', 'font-family': TICKFONT, transform: 'translate(' + (mid.x - 3) + ',' + (y + 3) + ') rotate(-45)' }, g);
    tl2.textContent = t.toFixed(4);
    
    
  });
  const al = mk('text', { x: mid.x + mid.w / 2, y: mid.y + mid.h + 50, 'font-size': 11, 'text-anchor': 'middle', fill: '#222', 'font-family': TICKFONT }, g);
  al.textContent = 'a [nm]';
  
  
  const nl = mk('text', { x: right.x + right.w / 2, y: right.y + right.h + 50, 'font-size': 11, 'text-anchor': 'middle', fill: '#222', 'font-family': TICKFONT }, g);
  nl.textContent = 'n(diamond)/n(C)';
  
  
  const nl2 = mk('text', { x: 0, y: 0, 'font-size': 11, 'text-anchor': 'middle', fill: '#222', 'font-family': TICKFONT, transform: 'translate(' + (mid.x - 46) + ',' + (mid.y + mid.h / 2) + ') rotate(-90)' }, g);
  nl2.textContent = 'n(diamond)/n(C)';
  
  
}

drawSpectrum('fig2', { x: 2008, y: 138, w: 327, h: 251 }, [0, 60], [-0.5, 1.5], hdXTicks, hdYTicks, hdYLabels, hdFreq, hdFlux, hdErr, hdLimFreq, hdLimVal, hdSamplePeak, hdSampleAmp, hdFitPeak, hdFitAmp);
drawCorner('fig2', { x: 2420, y: 132, w: 117, h: 120 }, { x: 2420, y: 258, w: 117, h: 118 }, { x: 2543, y: 258, w: 119, h: 118 }, hdACounts, hdNCounts, hdARange, hdNRange, hdATicks, hdNTicks, hdAQuant, hdNQuant, hdML, hdSpread);

drawSpectrum('fig3', { x: 2001, y: 482, w: 327, h: 250 }, [0, 60], [-0.5, 2.5], mwXTicks, mwYTicks, mwYLabels, mwFreq, mwFlux, mwErr, mwLimFreq, mwLimVal, mwSamplePeak, mwSampleAmp, mwFitPeak, mwFitAmp);
drawCorner('fig3', { x: 2423, y: 471, w: 118, h: 118 }, { x: 2423, y: 594, w: 118, h: 118 }, { x: 2547, y: 594, w: 120, h: 118 }, mwACounts, mwNCounts, mwARange, mwNRange, mwATicks, mwNTicks, mwAQuant, mwNQuant, mwML, mwSpread);

drawSpectrum('fig1', { x: 1998, y: 836, w: 327, h: 251 }, [0, 100], [-5, 60], vtXTicks, vtYTicks, vtYLabels, vtFreq, vtFlux, vtErr, vtLimFreq, vtLimVal, vtSamplePeak, vtSampleAmp, vtFitPeak, vtFitAmp);
drawCorner('fig1', { x: 2414, y: 825, w: 118, h: 119 }, { x: 2414, y: 950, w: 118, h: 118 }, { x: 2537, y: 950, w: 119, h: 118 }, vtACounts, vtNCounts, vtARange, vtNRange, vtATicks, vtNTicks, vtAQuant, vtNQuant, vtML, vtSpread);
</script>
</body></html>
